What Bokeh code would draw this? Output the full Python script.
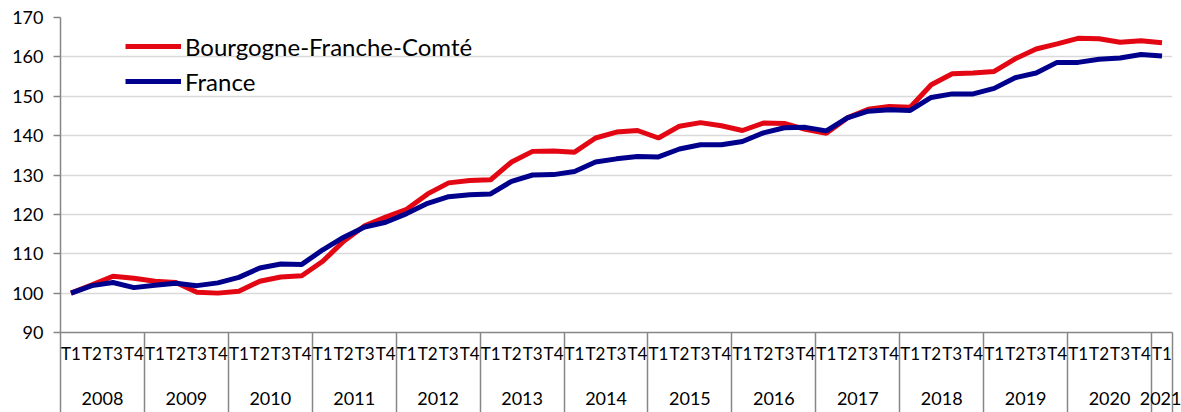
from bokeh.plotting import figure
from bokeh.models import FixedTicker, LinearAxis, Range1d
from bokeh.embed import file_html
from bokeh.resources import INLINE

years = ["2008", "2009", "2010", "2011", "2012", "2013", "2014", "2015",
         "2016", "2017", "2018", "2019", "2020", "2021"]
quarters_per_year = [4, 4, 4, 4, 4, 4, 4, 4, 4, 4, 4, 4, 4, 1]
quarter_names = ["T1", "T2", "T3", "T4"]

bfc = [100.0, 102.1, 104.3, 103.8, 103.0, 102.7, 100.2, 100.0,
       100.5, 103.0, 104.1, 104.4, 108.1, 113.2, 117.1, 119.3,
       121.3, 125.2, 128.0, 128.6, 128.8, 133.3, 136.0, 136.1,
       135.8, 139.4, 140.9, 141.3, 139.4, 142.4, 143.3, 142.5,
       141.3, 143.2, 143.1, 141.6, 140.6, 144.5, 146.7, 147.4,
       147.2, 152.9, 155.7, 155.9, 156.3, 159.5, 162.0, 163.3,
       164.7, 164.6, 163.7, 164.1, 163.6]
france = [100.0, 101.9, 102.7, 101.4, 102.0, 102.5, 101.9, 102.6,
          104.0, 106.4, 107.4, 107.3, 111.0, 114.2, 116.8, 118.0,
          120.2, 122.8, 124.5, 125.0, 125.2, 128.4, 130.0, 130.1,
          130.9, 133.3, 134.1, 134.7, 134.6, 136.6, 137.7, 137.7,
          138.5, 140.7, 142.0, 142.1, 141.2, 144.5, 146.2, 146.6,
          146.4, 149.7, 150.6, 150.6, 152.0, 154.7, 155.9, 158.6,
          158.6, 159.4, 159.7, 160.6, 160.2]
y_ticks = [90, 100, 110, 120, 130, 140, 150, 160, 170]

# derived positions
labels = []
year_centers = []
boundaries = [-0.5]
start = 0
for y, n in zip(years, quarters_per_year):
    labels += quarter_names[:n]
    year_centers.append(start + (n - 1) / 2)
    start += n
    boundaries.append(start - 0.5)
xs = list(range(len(labels)))

FONT = "Lato"
GRAY = "#868686"

p = figure(width=1181, height=412, output_backend="svg", toolbar_location=None,
           x_axis_location=None, x_range=Range1d(-0.5, len(labels) - 0.5),
           y_range=Range1d(y_ticks[0], y_ticks[-1]),
           min_border_left=60, min_border_top=17, min_border_right=9,
           min_border_bottom=80)
p.outline_line_color = None
p.background_fill_color = "white"
p.xgrid.visible = False

p.line(xs, bfc, line_color="#E30613", line_width=5, legend_label="Bourgogne-Franche-Comté")
p.line(xs, france, line_color="#00008C", line_width=5, legend_label="France")

yax = p.yaxis[0]
yax.ticker = FixedTicker(ticks=y_ticks, minor_ticks=[])
yax.axis_line_color = GRAY
yax.axis_line_width = 1.5
yax.major_tick_line_color = GRAY
yax.major_tick_line_width = 1.5
yax.major_tick_out = 7
yax.major_tick_in = 0
yax.minor_tick_line_color = None
yax.major_label_standoff = 10
yax.major_label_text_font = FONT
yax.major_label_text_font_size = "18px"
yax.major_label_text_color = "#000000"

p.ygrid.ticker = FixedTicker(ticks=y_ticks, minor_ticks=[])
p.ygrid.grid_line_color = "#D9D9D9"
p.ygrid.grid_line_width = 1.5

qax = LinearAxis(ticker=FixedTicker(ticks=xs, minor_ticks=boundaries),
                 major_label_overrides={i: l for i, l in zip(xs, labels)})
qax.axis_line_color = GRAY
qax.axis_line_width = 1.5
qax.major_tick_out = 0
qax.major_tick_in = 0
qax.major_tick_line_color = None
qax.minor_tick_out = 80
qax.minor_tick_in = 0
qax.minor_tick_line_color = GRAY
qax.minor_tick_line_width = 1.5
qax.major_label_standoff = -70
qax.major_label_text_font = FONT
qax.major_label_text_font_size = "17px"
qax.major_label_text_color = "#000000"
p.add_layout(qax, "below")

yrax = LinearAxis(ticker=FixedTicker(ticks=year_centers, minor_ticks=[]),
                  major_label_overrides={c: y for c, y in zip(year_centers, years)})
yrax.axis_line_color = None
yrax.major_tick_out = 0
yrax.major_tick_in = 0
yrax.major_tick_line_color = None
yrax.minor_tick_line_color = None
yrax.major_label_standoff = 25
yrax.major_label_text_font = FONT
yrax.major_label_text_font_size = "18px"
yrax.major_label_text_color = "#000000"
p.add_layout(yrax, "below")

lg = p.legend[0]
lg.location = (65, 236)
lg.border_line_color = None
lg.background_fill_alpha = 0
lg.padding = 0
lg.margin = 0
lg.spacing = 5
lg.glyph_width = 56
lg.glyph_height = 30
lg.label_height = 30
lg.label_standoff = 4
lg.label_text_font = FONT
lg.label_text_font_size = "24px"
lg.label_text_color = "#000000"

open("out.html", "w").write(file_html(p, INLINE))
